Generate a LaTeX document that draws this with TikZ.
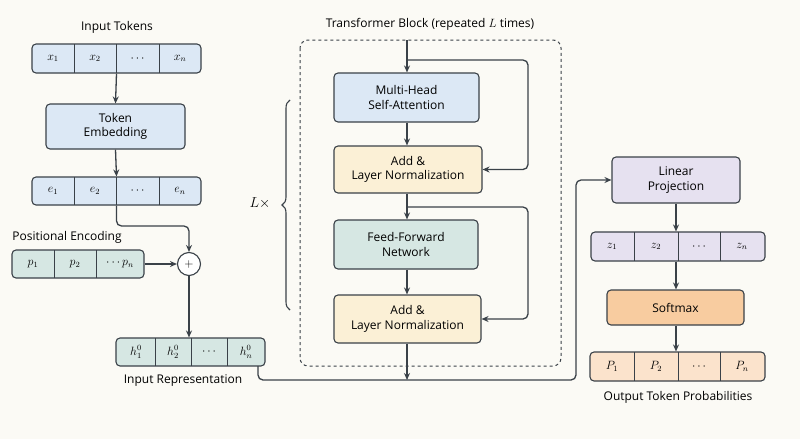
\documentclass[tikz,border=0pt]{standalone}
\usepackage{fontspec}
\setmainfont{Open Sans}
\usetikzlibrary{arrows.meta,decorations.pathreplacing}
\definecolor{bg}{HTML}{FBFAF5}
\definecolor{ln}{HTML}{3A4148}
\definecolor{cblue}{HTML}{DCE8F5}
\definecolor{cgreen}{HTML}{D6E7E3}
\definecolor{cyell}{HTML}{FBF0D6}
\definecolor{cpurp}{HTML}{E6E1F0}
\definecolor{corng}{HTML}{F8CCA0}
\definecolor{corlt}{HTML}{FBE3CC}

\begin{document}
\begin{tikzpicture}
[
x=1pt,y=-1pt,
font=\fontsize{12}{14.5}\selectfont,
block/.style={draw=ln,rounded corners=4pt,line width=1.1pt,align=center,inner sep=0pt},
seprow/.style={draw=ln,line width=1pt},
flow/.style={draw=ln,line width=1.3pt,-{Stealth[length=7pt,width=6pt]}},
]
\fill[bg] (0,0) rectangle (800,439);

%Input side
\node (lblin) at (117,27) {Input Tokens};
\node[block,fill=cblue,minimum width=169,minimum height=29] (xrow) at (116.5,58.5) {};
\foreach \c in {74,116,159} \draw[seprow] (\c,44) -- (\c,73);
\node at (53,58.5) {$x_1$};
\node at (95,58.5) {$x_2$};
\node at (137.5,58.5) {$\cdots$};
\node at (180,58.5) {$x_n$};

\node[block,fill=cblue,minimum width=139,minimum height=45] (emb) at (115.5,126.5) {Token\\Embedding};

\node[block,fill=cblue,minimum width=169,minimum height=28] (erow) at (116.5,191) {};
\foreach \c in {74,116,159} \draw[seprow] (\c,177) -- (\c,205);
\node at (53,191) {$e_1$};
\node at (95,191) {$e_2$};
\node at (137.5,191) {$\cdots$};
\node at (180,191) {$e_n$};

\node (lblpe) at (67,237) {Positional Encoding};
\node[block,fill=cgreen,minimum width=132,minimum height=28] (prow) at (78,264) {};
\foreach \c in {54,96} \draw[seprow] (\c,250) -- (\c,278);
\node at (33,264) {$p_1$};
\node at (75,264) {$p_2$};
\node at (120,264) {$\cdots p_n$};

\node[draw=ln,circle,line width=1.1pt,fill=white,minimum size=23,inner sep=0pt] (plus) at (189,264) {$+$};

\node[block,fill=cgreen,minimum width=149,minimum height=28] (hrow) at (190.5,352) {};
\foreach \c in {155,191,227} \draw[seprow] (\c,338) -- (\c,366);
\node[inner sep=1pt] at (136,352) {$h_1^0$};
\node[inner sep=1pt] at (173,352) {$h_2^0$};
\node[inner sep=1pt] at (209,352) {$\cdots$};
\node[inner sep=1pt] at (246,352) {$h_n^0$};
\node (lblhr) at (183,381) {Input Representation};

\draw[flow] (xrow.south) -- (emb.north);
\draw[flow] (emb.south) -- (erow.north);
\draw[flow,rounded corners=5pt] (erow.south) |- (150,226) -| (plus.north);
\draw[flow] (prow.east) -- (plus.west);
\draw[flow] (plus.south) -- (hrow.north-|plus);

%Transformer block
\node (lbltb) at (430,24) {Transformer Block (repeated $L$ times)};
\draw[ln,dashed,rounded corners=8pt,line width=1pt] (300,40) rectangle (561,366);
\node[block,fill=cblue,minimum width=145,minimum height=49] (mhsa) at (406.5,97.5) {Multi-Head\\Self-Attention};
\node[block,fill=cyell,minimum width=148,minimum height=47] (add1) at (408,169.5) {Add \&\\Layer Normalization};
\node[block,fill=cgreen,minimum width=144,minimum height=49] (ffn) at (406,244.5) {Feed-Forward\\Network};
\node[block,fill=cyell,minimum width=147,minimum height=48] (add2) at (407.5,319) {Add \&\\Layer Normalization};
\coordinate (tbin) at (407,40);
\coordinate (tbout) at (407,380);

\draw[flow] (tbin) -- (mhsa.north-|tbin);
\draw[flow,rounded corners=5pt] (407,60) -- (528,60) |- (add1.east);
\draw[flow] (mhsa.south-|tbin) -- (add1.north-|tbin);
\draw[flow] (add1.south-|tbin) -- (ffn.north-|tbin);
\draw[flow,rounded corners=5pt] (407,207) -- (528,207) |- (add2.east);
\draw[flow] (ffn.south-|tbin) -- (add2.north-|tbin);
\draw[flow] (add2.south-|tbin) -- (tbout);

\draw[ln,line width=1.1pt,decorate,decoration={brace,amplitude=8pt}] (290,310) -- (290,100);
\node[font=\fontsize{14}{16}\selectfont] (lblrep) at (260,203) {$L\times$};

%Output side
\node[block,fill=cpurp,minimum width=128,minimum height=46] (lin) at (676,180) {Linear\\Projection};
\node[block,fill=cpurp,minimum width=174,minimum height=29] (zrow) at (678,246.5) {};
\foreach \c in {634,678,720} \draw[seprow] (\c,232) -- (\c,261);
\node at (612,246.5) {$z_1$};
\node at (656,246.5) {$z_2$};
\node at (699,246.5) {$\cdots$};
\node at (742,246.5) {$z_n$};
\node[block,fill=corng,minimum width=137,minimum height=35] (soft) at (675.5,307.5) {Softmax};
\node[block,fill=corlt,minimum width=175,minimum height=29] (prob) at (677.5,366.5) {};
\foreach \c in {634,678,720} \draw[seprow] (\c,352) -- (\c,381);
\node at (612,366.5) {$P_1$};
\node at (656,366.5) {$P_2$};
\node at (699,366.5) {$\cdots$};
\node at (742,366.5) {$P_n$};
\node (lblout) at (678,397) {Output Token Probabilities};

\draw[flow,rounded corners=5pt] (258,366) |- (576,380) |- (lin.west);
\draw[flow] (lin.south) -- (zrow.north-|lin);
\draw[flow] (zrow.south-|lin) -- (soft.north-|lin);
\draw[flow] (soft.south-|lin) -- (prob.north-|lin);
\end{tikzpicture}
\end{document}
